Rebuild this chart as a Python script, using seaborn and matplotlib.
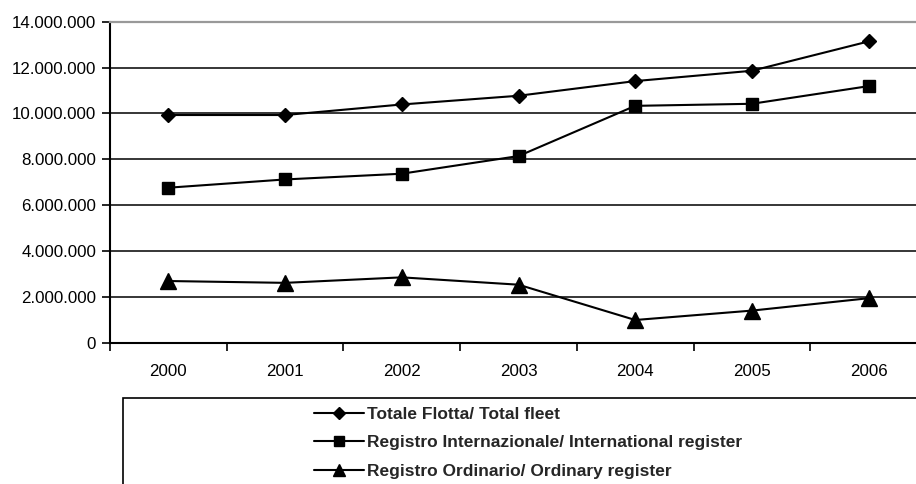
import matplotlib
matplotlib.use("Agg")
import matplotlib.pyplot as plt
import seaborn as sns
import pandas as pd
from matplotlib.lines import Line2D
from matplotlib.patches import Rectangle
from matplotlib.ticker import FuncFormatter, FixedLocator

# Fleet tonnage by register, 2000-2006
years = [2000, 2001, 2002, 2003, 2004, 2005, 2006]
totale_flotta = [9930000, 9930000, 10390000, 10770000, 11410000, 11860000, 13140000]
registro_internazionale = [6760000, 7120000, 7370000, 8140000, 10330000, 10420000, 11190000]
registro_ordinario = [2690000, 2610000, 2850000, 2530000, 990000, 1400000, 1940000]
series_labels = [
    "Totale Flotta/ Total fleet",
    "Registro Internazionale/ International register",
    "Registro Ordinario/ Ordinary register",
]
y_ticks = [0, 2000000, 4000000, 6000000, 8000000, 10000000, 12000000, 14000000]

sns.set_style("white")
plt.rcParams["font.family"] = ["Liberation Sans", "DejaVu Sans"]

df = pd.DataFrame({
    "year": years * 3,
    "value": totale_flotta + registro_internazionale + registro_ordinario,
    "series": sum([[lab] * len(years) for lab in series_labels], []),
})

fig = plt.figure(figsize=(9.16, 4.84), dpi=100)
ax = fig.add_axes([110 / 916, 141.3 / 484, 817 / 916, 321 / 484])

styles = {
    series_labels[0]: dict(marker="D", markersize=7.6),
    series_labels[1]: dict(marker="s", markersize=8.8),
    series_labels[2]: dict(marker="^", markersize=11),
}
for lab in series_labels:
    sub = df[df["series"] == lab]
    sns.lineplot(data=sub, x="year", y="value", ax=ax, color="black",
                 linewidth=1.5, markeredgecolor="black", markeredgewidth=1,
                 markerfacecolor="black", legend=False, **styles[lab])

ax.set_xlim(years[0] - 0.5, years[-1] + 0.5)
ax.set_ylim(0, 14000000)
ax.set_xlabel("")
ax.set_ylabel("")

# Horizontal grid lines and y ticks
ax.yaxis.set_major_locator(FixedLocator(y_ticks))
ax.yaxis.set_major_formatter(FuncFormatter(lambda v, p: f"{int(v):,}".replace(",", ".")))
ax.grid(axis="y", color="black", linewidth=1.1)
ax.grid(axis="x", visible=False)
ax.set_axisbelow(True)
ax.tick_params(axis="y", which="major", direction="out", length=6, width=1.2,
               color="black", pad=4, labelsize=12.2, labelcolor="black", left=True)

# Category boundaries as ticks, year labels centred between them
bounds = [y - 0.5 for y in years] + [years[-1] + 0.5]
ax.xaxis.set_major_locator(FixedLocator(bounds))
ax.xaxis.set_major_formatter(FuncFormatter(lambda v, p: ""))
ax.xaxis.set_minor_locator(FixedLocator(years))
ax.xaxis.set_minor_formatter(FuncFormatter(lambda v, p: str(int(round(v)))))
ax.tick_params(axis="x", which="major", direction="out", length=6, width=1.2,
               color="black", bottom=True)
ax.tick_params(axis="x", which="minor", length=0, pad=15, labelsize=12.2,
               labelcolor="black", bottom=True)

for side in ("left", "bottom"):
    ax.spines[side].set_color("black")
    ax.spines[side].set_linewidth(1.5)
ax.spines["top"].set_color("#999999")
ax.spines["top"].set_linewidth(1.6)
ax.spines["right"].set_visible(False)

# Legend box below the plot
fig.patches.append(Rectangle((123 / 916, -0.2), 1.0, (484 - 398) / 484 + 0.2,
                             transform=fig.transFigure, fill=False,
                             edgecolor="black", linewidth=1.2, clip_on=False))
handles = [
    Line2D([], [], color="black", lw=1.5, marker="D", markersize=6),
    Line2D([], [], color="black", lw=1.5, marker="s", markersize=7),
    Line2D([], [], color="black", lw=1.5, marker="^", markersize=8.5),
]
fig.legend(handles, series_labels, loc="upper left",
           bbox_to_anchor=(314 / 916, 1 - 406.5 / 484), frameon=False,
           prop={"size": 12.5, "weight": "bold"}, handlelength=2.9,
           handletextpad=0.15, labelspacing=0.78, borderaxespad=0, borderpad=0)

fig.savefig("out.png", dpi=100)
